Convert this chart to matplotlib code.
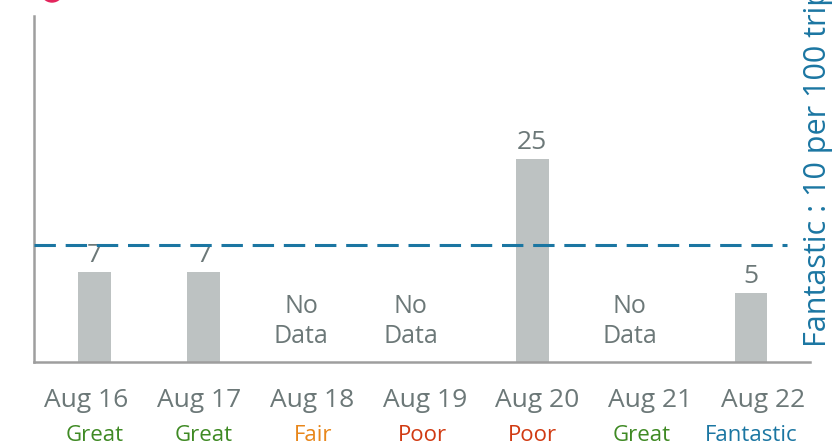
import numpy as np
import matplotlib
matplotlib.use("Agg")
import matplotlib.pyplot as plt
from matplotlib.patches import Ellipse

# chart data
dates = ["Aug 16", "Aug 17", "Aug 18", "Aug 19", "Aug 20", "Aug 21", "Aug 22"]
counts = [7, 7, None, None, 25, None, 5]
ratings = ["Great", "Great", "Fair", "Poor", "Poor", "Great", "Fantastic"]
target = 10
target_label = "Fantastic : 10 per 100 trips"

rating_colors = {
    "Great": "#3f8a24",
    "Fair": "#e8861a",
    "Poor": "#d13a12",
    "Fantastic": "#1b76a2",
}
TEXT_GRAY = "#6c7878"
BAR_GRAY = "#bdc2c2"
AXIS_GRAY = "#9e9e9e"

plt.rcParams['font.family'] = ['Open Sans', 'DejaVu Sans']

# the original compresses tall bars, so use a saturating scale
K = 23.6


def fwd(v):
    v = np.asarray(v, dtype=float)
    with np.errstate(divide='ignore', invalid='ignore'):
        return v / (v + K)


def inv(u):
    u = np.asarray(u, dtype=float)
    with np.errstate(divide='ignore', invalid='ignore'):
        return K * u / (1 - u)


fig = plt.figure(figsize=(8.35, 4.45), dpi=100)
ax = fig.add_axes([34 / 835, 83 / 445, 776 / 835, 346 / 445])
ax.set_yscale('function', functions=(fwd, inv))

x = np.arange(len(dates))
has = np.array([c is not None for c in counts])
heights = np.array([c if c is not None else 0 for c in counts], dtype=float)

ax.bar(x[has], heights[has], width=0.30, color=BAR_GRAY, zorder=2)

for i, c in enumerate(counts):
    if c is None:
        ax.text(i - 0.11, 0.118, "No\nData", transform=ax.get_xaxis_transform(),
                ha='center', va='center', fontsize=18, color=TEXT_GRAY, linespacing=1.28)
    else:
        ax.annotate(str(c), (i, c), xytext=(0, 7), textcoords='offset points',
                    ha='center', va='baseline', fontsize=19, color=TEXT_GRAY)

# target line
ax.axhline(target, xmin=0, xmax=0.97, color=rating_colors["Fantastic"], lw=2.2,
           dashes=(7, 3.2), zorder=3)

# date labels sit on their own row spacing
for i, d in enumerate(dates):
    ax.text(0.067 + i * 0.1455, -0.13, d, transform=ax.transAxes,
            ha='center', va='baseline', fontsize=19, color=TEXT_GRAY)

for i, r in enumerate(ratings):
    ax.text(i, -0.228, r, transform=ax.get_xaxis_transform(),
            ha='center', va='baseline', fontsize=16, color=rating_colors[r])

ax.set_xlim(-0.553, 6.54)
ax.set_ylim(0, 167.6)
ax.set_xticks([])
ax.set_yticks([])
ax.minorticks_off()
for s in ['top', 'right']:
    ax.spines[s].set_visible(False)
for s in ['left', 'bottom']:
    ax.spines[s].set_color(AXIS_GRAY)
    ax.spines[s].set_linewidth(1.8)

fig.text(818 / 835, 98 / 445, target_label, rotation=90, ha='center', va='bottom',
         fontsize=22, color=rating_colors["Fantastic"])

# clipped red badge at the top left
fig.add_artist(Ellipse((52 / 835, 454 / 445), width=22 / 835, height=22 / 445,
                       transform=fig.transFigure, color="#e3245c"))

fig.savefig("out.png", dpi=100)
